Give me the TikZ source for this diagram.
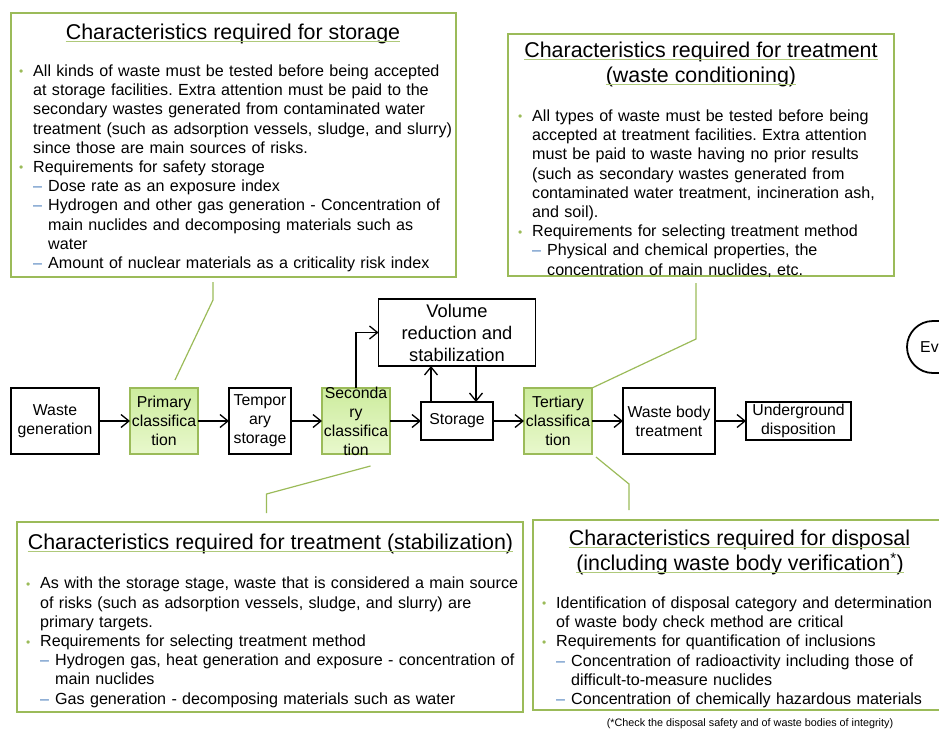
\documentclass[tikz,border=0pt]{standalone}
\usepackage{fontspec}
\setmainfont{Liberation Sans}
\usetikzlibrary{arrows.meta,positioning,calc}
\hyphenpenalty=10000
\frenchspacing

\definecolor{boxgreen}{HTML}{9BBB59}
\definecolor{dashblue}{HTML}{4F81BD}
\definecolor{filltop}{HTML}{CDEC9E}
\definecolor{fillbot}{HTML}{E8F8CC}

\tikzset{%
        >={Straight Barb[length=8pt,width=13pt]},
        every edge/.style={arr}
}
\tikzstyle{arr}=[draw=black, line width=1.3pt, ->]
\tikzstyle{flowtxt}=[inner sep=0pt, align=center, font=\fontsize{15.8}{19}\selectfont]
\tikzstyle{flow}=[flowtxt, draw=black, line width=1.8pt, outer sep=0pt]
\tikzstyle{classbox}=[flow, draw=boxgreen, top color=filltop, bottom color=fillbot]
\tikzstyle{infobox}=[draw=boxgreen, line width=1.3pt, outer sep=0pt, inner sep=0pt]
\tikzstyle{ttl}=[inner sep=0pt, anchor=base, font=\fontsize{21.4}{25}\selectfont]
\tikzstyle{ulline}=[draw=boxgreen!80, line width=0.9pt]
\tikzstyle{bodytxt}=[inner sep=0pt, anchor=north west, align=left, font=\fontsize{16.1}{19.2}\selectfont]
\tikzstyle{callout}=[draw=boxgreen, line width=1.2pt]

% bullet and dash lines of the text boxes
\newcommand{\bitem}{\par\noindent\hangindent=14pt\hangafter=1%
  \makebox[14pt][l]{\raisebox{0.5pt}{\textcolor{boxgreen}{\fontsize{12}{12}\selectfont\textbullet}}}}
\newcommand{\ditem}{\par\noindent\hangindent=29pt\hangafter=1%
  \hspace*{14pt}\makebox[15pt][l]{\textcolor{dashblue}{--}}}

\begin{document}
\begin{tikzpicture}[x=1pt, y=-1pt]
  \useasboundingbox (0,0) rectangle (939,729);
  \clip (0,0) rectangle (939,729);

  % text boxes
  \node[infobox, minimum width=445pt, minimum height=264pt] (bx1) at (233.5,145) {};
  \node[infobox, minimum width=386pt, minimum height=242pt] (bx2) at (701,155) {};
  \node[infobox, minimum width=506pt, minimum height=190pt] (bx3) at (270,617) {};
  \node[infobox, minimum width=412pt, minimum height=190pt] (bx4) at (739,615) {};

  \node[ttl] (t1) at (233,39.3) {Characteristics required for storage};
  \node[ttl] (t2a) at (701,57.3) {Characteristics required for treatment};
  \node[ttl] (t2b) at (701,82) {(waste conditioning)};
  \node[ttl] (t3) at (270.5,549.5) {Characteristics required for treatment (stabilization)};
  \node[ttl] (t4a) at (739.5,545) {Characteristics required for disposal};
  \node[ttl] (t4b) at (740,570.7) {(including waste body verification\textsuperscript{*})};
  \foreach \t in {t1,t2a,t2b,t3,t4a,t4b}
    \draw[ulline] ([yshift=-2pt]\t.base west) -- ([yshift=-2pt]\t.base east);

  \node[bodytxt, text width=440pt] (b1) at (19,57) {%
    \bitem All kinds of waste must be tested before being accepted\newline
    at storage facilities. Extra attention must be paid to the\newline
    secondary wastes generated from contaminated water\newline
    treatment (such as adsorption vessels, sludge, and slurry)\newline
    since those are main sources of risks.
    \bitem Requirements for safety storage
    \ditem Dose rate as an exposure index
    \ditem Hydrogen and other gas generation - Concentration of\newline
    main nuclides and decomposing materials such as\newline
    water
    \ditem Amount of nuclear materials as a criticality risk index\par};
  \node[bodytxt, text width=380pt] (b2) at (518,102) {%
    \bitem All types of waste must be tested before being\newline
    accepted at treatment facilities. Extra attention\newline
    must be paid to waste having no prior results\newline
    (such as secondary wastes generated from\newline
    contaminated water treatment, incineration ash,\newline
    and soil).
    \bitem Requirements for selecting treatment method
    \ditem Physical and chemical properties, the\newline
    concentration of main nuclides, etc.\par};
  \node[bodytxt, text width=500pt] (b3) at (26,569.5) {%
    \bitem As with the storage stage, waste that is considered a main source\newline
    of risks (such as adsorption vessels, sludge, and slurry) are\newline
    primary targets.
    \bitem Requirements for selecting treatment method
    \ditem Hydrogen gas, heat generation and exposure - concentration of\newline
    main nuclides
    \ditem Gas generation - decomposing materials such as water\par};
  \node[bodytxt, text width=420pt] (b4) at (542,589) {%
    \bitem Identification of disposal category and determination\newline
    of waste body check method are critical
    \bitem Requirements for quantification of inclusions
    \ditem Concentration of radioactivity including those of\newline
    difficult-to-measure nuclides
    \ditem Concentration of chemically hazardous materials\par};
  \node[anchor=base, inner sep=0pt, font=\fontsize{10.8}{12}\selectfont] (fn) at (750,726)
    {(*Check the disposal safety and of waste bodies of integrity)};

  % process flow
  \node[flow, minimum width=88pt, minimum height=66pt] (wg) at (55,421) {Waste\\generation};
  \node[classbox, minimum width=68pt, minimum height=66pt, right=31pt of wg] (pc) {Primary\\classifica\\tion};
  \node[flow, minimum width=62pt, minimum height=66pt, right=31pt of pc] (ts) {Tempor\\ary\\storage};
  \node[classbox, minimum width=68pt, minimum height=66pt, right=31pt of ts,
        label={[flowtxt]center:Seconda\\ry\\classifica\\tion}] (sc) {};
  \node[flow, minimum width=72pt, minimum height=38pt, right=31pt of sc] (st) {Storage};
  \node[flow, minimum width=157pt, minimum height=67pt, above=36pt of st,
        font=\fontsize{18.3}{22}\selectfont] (vr) {Volume\\reduction and\\stabilization};
  \node[classbox, minimum width=68pt, minimum height=66pt, right=31pt of st] (tc) {Tertiary\\classifica\\tion};
  \node[flow, minimum width=92pt, minimum height=66pt, right=31pt of tc] (wb) {Waste body\\treatment};
  \node[flow, minimum width=105pt, minimum height=38pt, right=31pt of wb] (ud) {Underground\\disposition};
  \node[flow, rounded corners=26pt, minimum width=100pt, minimum height=52pt, anchor=west] (ev) at (907,347) {};
  \node[flowtxt, anchor=west] (evt) at ([xshift=13pt]ev.west) {Ev};

  \path (wg) edge (pc)
        (pc) edge (ts)
        (ts) edge (sc)
        (sc) edge (st)
        (st) edge (tc)
        (tc) edge (wb)
        (wb) edge (ud);
  \draw[arr] (sc) |- (vr);
  \draw[arr] ([xshift=-26pt]st.north) -- ([xshift=-26pt]st.north |- vr.south);
  \draw[arr] ([xshift=19pt]st.north |- vr.south) -- ([xshift=19pt]st.north);

  % callout lines
  \draw[callout] ([xshift=-20.5pt,yshift=-5pt]bx1.south) -- ++(0,18) -- ([xshift=11pt,yshift=8pt]pc.north);
  \draw[callout] ([xshift=-5pt,yshift=-7pt]bx2.south) -- ++(0,56) -- (tc.north east);
  \draw[callout] ([xshift=14.5pt,yshift=-12pt]sc.south) -- ++(-104,28) -- ++(0,19);
  \draw[callout] ([xshift=4pt,yshift=-3pt]tc.south east) -- ++(33,27) -- ++(0,26);
\end{tikzpicture}
\end{document}
